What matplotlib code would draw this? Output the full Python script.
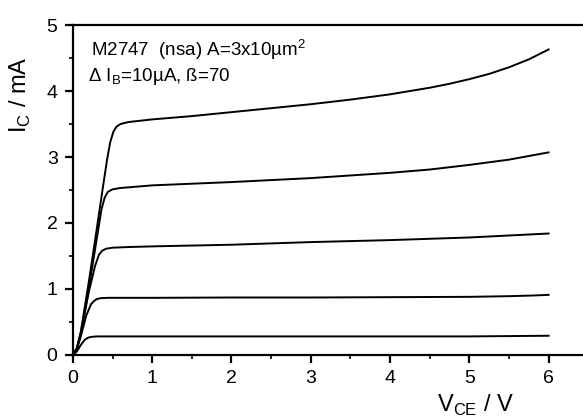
"""
Output characteristics I_C(V_CE) of transistor M2747 (nsa), A=3x10um^2.
"""
import matplotlib
matplotlib.use("Agg")
import matplotlib.pyplot as plt
from matplotlib.ticker import MultipleLocator

plt.rcParams['font.family'] = ['Liberation Sans', 'DejaVu Sans']

# V_CE (V) and I_C (mA), one pair of lists per base current step
vce_1 = [0, 0.05, 0.1, 0.15, 0.2, 0.25, 0.3, 0.5, 1, 2, 3, 4, 5, 5.5, 6]
ic_1 = [0, 0.05, 0.15, 0.23, 0.265, 0.275, 0.28, 0.28, 0.28, 0.28, 0.28, 0.28, 0.28, 0.285, 0.29]

vce_2 = [0, 0.05, 0.1, 0.17, 0.23, 0.27, 0.3, 0.35, 0.45, 1, 2, 3, 4, 5, 5.5, 5.8, 6]
ic_2 = [0, 0.08, 0.28, 0.6, 0.77, 0.82, 0.845, 0.86, 0.865, 0.865, 0.87, 0.87, 0.875, 0.88, 0.89, 0.9, 0.91]

vce_3 = [0, 0.05, 0.1, 0.2, 0.28, 0.33, 0.37, 0.42, 0.5, 0.7, 1, 2, 3, 4, 5, 5.5, 6]
ic_3 = [0, 0.1, 0.32, 0.95, 1.35, 1.52, 1.58, 1.61, 1.625, 1.635, 1.645, 1.67, 1.71, 1.74, 1.78, 1.81, 1.84]

vce_4 = [0, 0.05, 0.1, 0.2, 0.3, 0.36, 0.4, 0.44, 0.5, 0.6, 1, 2, 3, 4, 4.5, 5, 5.5, 6]
ic_4 = [0, 0.1, 0.33, 1.0, 1.75, 2.2, 2.38, 2.47, 2.51, 2.53, 2.57, 2.62, 2.68, 2.76, 2.81, 2.88, 2.96, 3.07]

vce_5 = [0, 0.05, 0.1, 0.2, 0.3, 0.38, 0.43, 0.47, 0.51, 0.55, 0.6, 0.7, 1, 1.5, 2, 2.5, 3,
         3.5, 4, 4.25, 4.5, 4.75, 5, 5.25, 5.5, 5.75, 6]
ic_5 = [0, 0.1, 0.35, 1.1, 1.9, 2.55, 2.95, 3.22, 3.38, 3.46, 3.5, 3.53, 3.57, 3.62, 3.68, 3.74, 3.8,
        3.87, 3.95, 4.0, 4.05, 4.11, 4.18, 4.26, 4.36, 4.48, 4.63]

curves = [(vce_1, ic_1), (vce_2, ic_2), (vce_3, ic_3), (vce_4, ic_4), (vce_5, ic_5)]

fig = plt.figure(figsize=(5.83, 4.18), dpi=100)
ax = fig.add_axes([0.125, 0.151, 0.884, 0.789])

for vce, ic in curves:
    ax.plot(vce, ic, color='black', linewidth=1.4)

ax.set_xlim(0, 6.5)
ax.set_ylim(0, 5)
ax.xaxis.set_major_locator(MultipleLocator(1))
ax.xaxis.set_minor_locator(MultipleLocator(0.5))
ax.yaxis.set_major_locator(MultipleLocator(1))
ax.yaxis.set_minor_locator(MultipleLocator(0.5))

for side in ['left', 'bottom', 'top', 'right']:
    ax.spines[side].set_linewidth(1.6)
ax.tick_params(which='major', direction='out', length=6, width=1.6, labelsize=14, pad=5)
ax.tick_params(which='minor', direction='out', length=3, width=1.2)

ax.set_ylabel('I$_\\mathregular{C}$ / mA', fontsize=17)
ax.yaxis.set_label_coords(-0.077, 0.79)
fig.text(0.815, 0.016, 'V$_\\mathregular{CE}$ / V', fontsize=17, ha='center', va='baseline')

ax.text(0.035, 0.925, 'M2747  (nsa) A=3x10µm$^\\mathregular{2}$', transform=ax.transAxes,
        fontsize=13.5, va='center')
ax.text(0.03, 0.845, '\u0394 I$_\\mathregular{B}$=10µA, ß=70', transform=ax.transAxes,
        fontsize=13.5, va='center')

plt.savefig('out.png', dpi=100)
